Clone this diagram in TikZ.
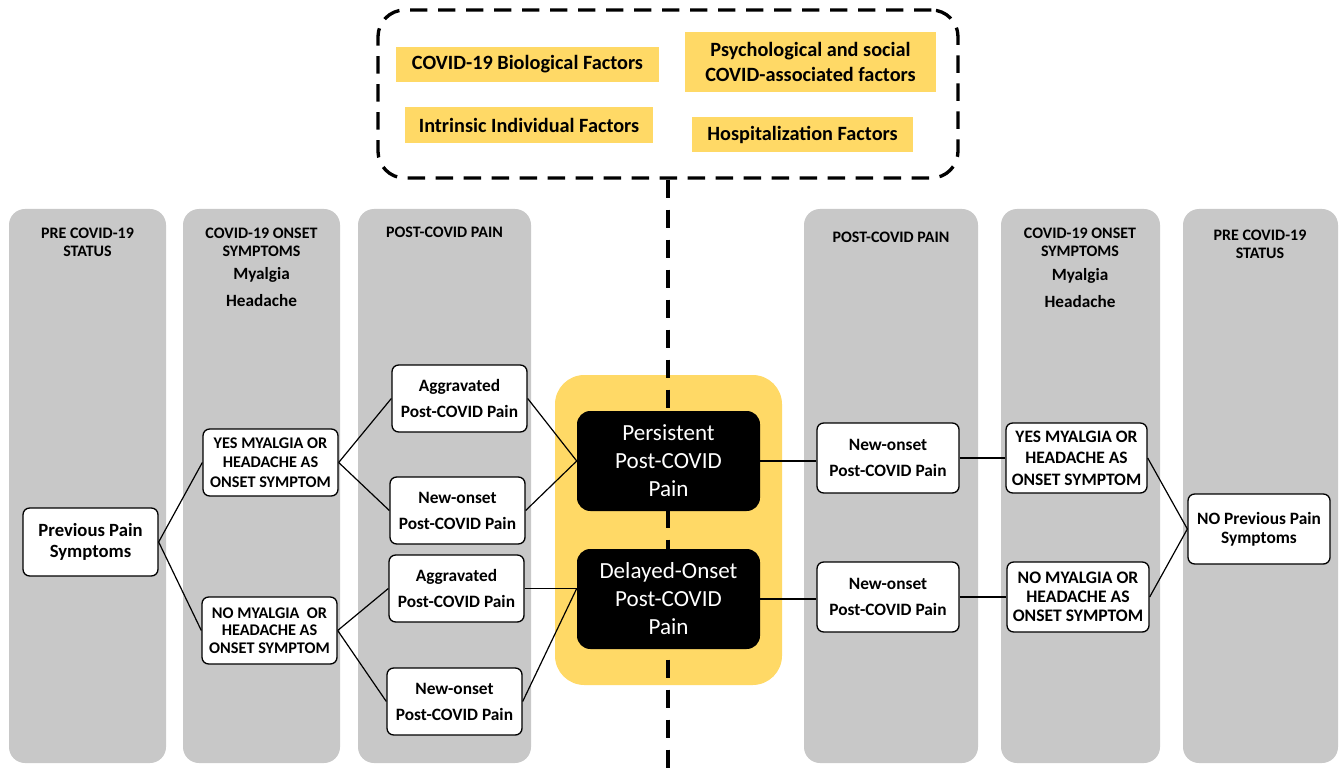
\documentclass[tikz,border=0pt]{standalone}
\usepackage{fontspec}
\setmainfont{Carlito}
\usetikzlibrary{fit}
\definecolor{colgray}{HTML}{C8C8C8}
\definecolor{gold}{HTML}{FFD966}
\begin{document}
\begin{tikzpicture}[x=0.75pt,y=-0.75pt,
  sz/.style 2 args={minimum width=#1*0.75pt, minimum height=#2*0.75pt},
  col/.style={fill=colgray, draw=none, rounded corners=12pt, inner sep=0pt},
  hdr/.style={align=center, inner sep=0pt, font=\fontsize{12}{13.5}\selectfont\bfseries},
  sub/.style={align=center, inner sep=0pt, font=\fontsize{12.9}{14}\selectfont\bfseries},
  wbox/.style={draw=black, fill=white, line width=1pt, rounded corners=5pt, inner sep=0pt, align=center, font=\fontsize{13}{19.5}\selectfont\bfseries},
  capbox/.style={wbox, font=\fontsize{12.2}{14.6}\selectfont\bfseries},
  capboxr/.style={wbox, font=\fontsize{13.1}{16.2}\selectfont\bfseries},
  bbox/.style={fill=black, text=white, rounded corners=10pt, inner sep=0pt, align=center, font=\fontsize{17.3}{21}\selectfont},
  fbox/.style={fill=gold, inner sep=0pt, align=center, font=\fontsize{15.2}{18.75}\selectfont\bfseries},
  dbox/.style={line width=2.5pt, dash pattern=on 13pt off 8pt},
  dline/.style={line width=3pt, dash pattern=on 13.5pt off 9pt},
  link/.style={line width=0.9pt}]
\fill[white] (0,0) rectangle (1341,773);
\useasboundingbox (0,0) rectangle (1341,773);

% columns
\node[col, fit={(9,209) (166,763)}] (c1) {};
\node[col, fit={(183,209) (340,763)}] (c2) {};
\node[col, fit={(358,209) (531,763)}] (c3) {};
\node[col, fit={(804,209) (978,763)}] (c4) {};
\node[col, fit={(1001,209) (1160,763)}] (c5) {};
\node[col, fit={(1183,209) (1338,763)}] (c6) {};

% headers
\node[hdr] (h1) at (87.5,242) {PRE COVID-19\\STATUS};
\node[hdr] (h2) at (261.5,242) {COVID-19 ONSET\\SYMPTOMS};
\node[sub] (m2) at (261.5,275) {Myalgia};
\node[sub] (d2) at (261.5,301) {Headache};
\node[hdr] (h3) at (444.5,232) {POST-COVID PAIN};
\node[hdr] (h4) at (891,237) {POST-COVID PAIN};
\node[hdr] (h5) at (1080,242) {COVID-19 ONSET\\SYMPTOMS};
\node[sub] (m5) at (1080,276) {Myalgia};
\node[sub] (d5) at (1080,302) {Headache};
\node[hdr] (h6) at (1260,244) {PRE COVID-19\\STATUS};

% factors box
\node[draw=black, dbox, rounded corners=20pt, inner sep=0pt, fit={(378,10) (958,178)}] (factors) {};
\node[fbox, sz={263}{35}] (bio) at (527.5,64.5) {COVID-19 Biological Factors};
\node[fbox, sz={251}{60}] (psy) at (810.5,62) {Psychological and social\\COVID-associated factors};
\node[fbox, sz={248}{36}] (intr) at (529,125) {Intrinsic Individual Factors};
\node[fbox, sz={221}{35}] (hosp) at (802.5,134.5) {Hospitalization Factors};

% centre
\node[fill=gold, rounded corners=22pt, inner sep=0pt, fit={(555,375) (782,685)}] (centre) {};
\coordinate (bot) at (668,773);
\draw[dline] (factors.south) -- (bot);
\node[bbox, sz={183}{100}] (pers) at (668.5,461) {Persistent\\Post-COVID\\Pain};
\node[bbox, sz={183}{100}] (dela) at (668.5,599) {Delayed-Onset\\Post-COVID\\Pain};

% left boxes
\node[wbox, font=\fontsize{14}{15.75}\selectfont\bfseries, sz={135}{68}] (pre1) at (90.5,542) {Previous Pain\\Symptoms};
\node[capbox, sz={135}{67}] (yes1) at (270.5,462.5) {YES MYALGIA OR\\HEADACHE AS\\ONSET SYMPTOM};
\node[capbox, font=\fontsize{12.2}{13.2}\selectfont\bfseries, sz={135}{67}] (no1) at (269.5,630.5) {NO MYALGIA~~OR\\HEADACHE AS\\ONSET SYMPTOM};
\node[wbox, sz={135}{67}] (agg1) at (459.5,398.5) {Aggravated\\Post-COVID Pain};
\node[wbox, sz={135}{67}] (new1) at (457.5,510.5) {New-onset\\Post-COVID Pain};
\node[wbox, sz={135}{67}] (agg2) at (456.5,588.5) {Aggravated\\Post-COVID Pain};
\node[wbox, sz={135}{67}] (new2) at (454.5,701.5) {New-onset\\Post-COVID Pain};

% right boxes
\node[wbox, sz={142}{70}] (new3) at (888,458) {New-onset\\Post-COVID Pain};
\node[capboxr, sz={141}{70}] (yes2) at (1076.5,458) {YES MYALGIA OR\\HEADACHE AS\\ONSET SYMPTOM};
\node[wbox, font=\fontsize{13}{14.3}\selectfont\bfseries, sz={142}{70}] (nopre) at (1259,529) {NO Previous Pain\\Symptoms};
\node[wbox, sz={142}{70}] (new4) at (888,597) {New-onset\\Post-COVID Pain};
\node[capboxr, font=\fontsize{13.2}{14.3}\selectfont\bfseries, sz={142}{70}] (no2) at (1078,597) {NO MYALGIA OR\\HEADACHE AS\\ONSET SYMPTOM};

% connectors
\coordinate (pin) at (pers.west);
\coordinate (din) at (dela.west |- agg2.east);
\draw[link] (pre1.east) -- (yes1.west);
\draw[link] (pre1.east) -- (no1.west);
\draw[link] (yes1.east) -- (agg1.west);
\draw[link] (yes1.east) -- (new1.west);
\draw[link] (no1.east) -- (agg2.west);
\draw[link] (no1.east) -- (new2.west);
\draw[link] (agg1.east) -- (pin);
\draw[link] (new1.east) -- (pin);
\draw[link] (agg2.east) -- (din);
\draw[link] (new2.east) -- (din);
\draw[link] (pers.east) -- (pers.east -| new3.west);
\draw[link] (dela.east) -- (dela.east -| new4.west);
\draw[link] (new3.east) -- (yes2.west);
\draw[link] (new4.east) -- (no2.west);
\draw[link] (yes2.east) -- (nopre.west);
\draw[link] (no2.east) -- (nopre.west);
\end{tikzpicture}
\end{document}
